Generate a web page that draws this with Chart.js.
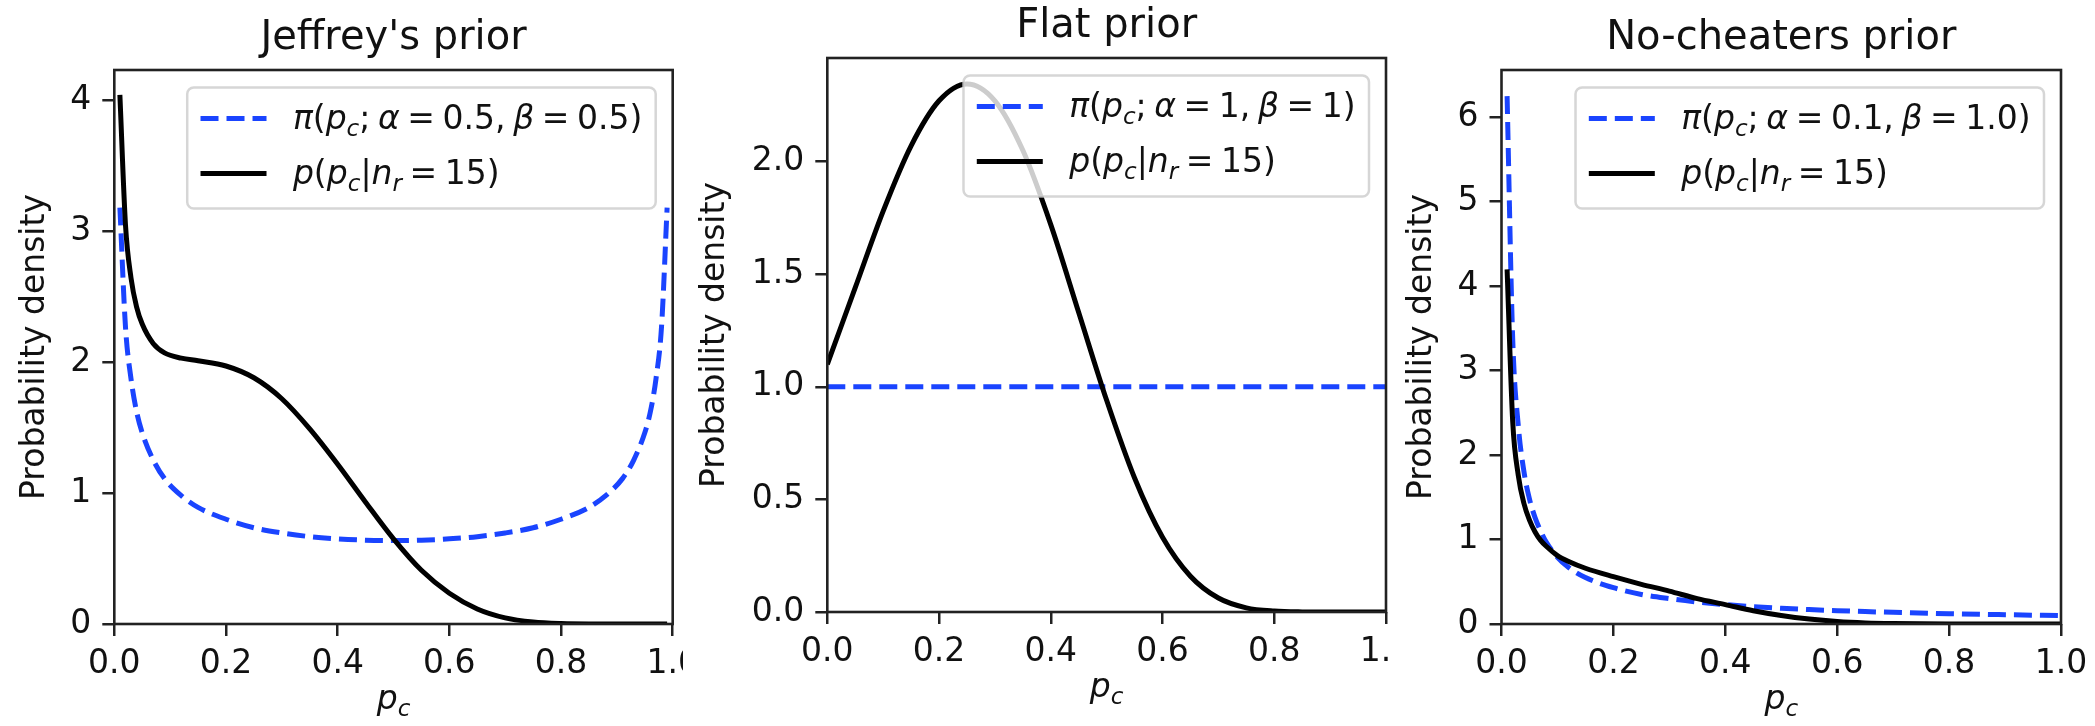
<!DOCTYPE html>
<html lang="en">
<head>
<meta charset="UTF-8">
<title>Priors and posteriors</title>
<script src="https://cdn.jsdelivr.net/npm/chart.js"></script>
<style>
  body { margin: 0; background: #fff; }
  #fig { position: relative; width: 2095px; height: 726px; overflow: hidden; }
  .panel { position: absolute; }
</style>
</head>
<body>
<div id="fig">
  <canvas id="jeffrey" class="panel" width="683" height="726" style="left:0px;top:0px"></canvas>
  <canvas id="flat" class="panel" width="704" height="726" style="left:686px;top:-12px"></canvas>
  <canvas id="nocheat" class="panel" width="703" height="726" style="left:1392px;top:0px"></canvas>
</div>
<script>
// ---- data ----
const xTicks = [0, 0.2, 0.4, 0.6, 0.8, 1.0];
const xTickLabels = ['0.0', '0.2', '0.4', '0.6', '0.8', '1.0'];

// Jeffrey's prior
const pcJeffrey = [0.01, 0.02, 0.03, 0.04, 0.05, 0.07, 0.09, 0.12, 0.15, 0.2, 0.25, 0.3, 0.35, 0.4, 0.45, 0.5,
                   0.55, 0.6, 0.65, 0.7, 0.75, 0.8, 0.85, 0.88, 0.91, 0.93, 0.95, 0.96, 0.97, 0.98, 0.99];
const priorJeffrey = [3.18, 2.27, 1.87, 1.62, 1.46, 1.25, 1.11, 0.98, 0.89, 0.80, 0.735, 0.695, 0.667, 0.650, 0.640, 0.637,
                      0.640, 0.650, 0.667, 0.695, 0.735, 0.80, 0.89, 0.98, 1.11, 1.25, 1.46, 1.62, 1.87, 2.27, 3.18];
const postJeffrey = [4.04, 3.05, 2.64, 2.42, 2.29, 2.14, 2.07, 2.03, 2.01, 1.97, 1.88, 1.72, 1.49, 1.22, 0.93, 0.65,
                     0.41, 0.235, 0.115, 0.047, 0.015, 0.003, 0, 0, 0, 0, 0, 0, 0, 0, 0];
const yTicksJeffrey = [0, 1, 2, 3, 4];
const yTickLabelsJeffrey = ['0', '1', '2', '3', '4'];
const legendJeffrey = ['π(p_c; α = 0.5, β = 0.5)', 'p(p_c|n_r = 15)'];

// Flat prior
const pcFlat = [0, 0.05, 0.1, 0.15, 0.2, 0.25, 0.3, 0.35, 0.4, 0.45, 0.5, 0.55, 0.6, 0.65, 0.7, 0.75, 0.8, 0.85, 0.9, 0.95, 1.0];
const priorFlat = [1, 1, 1, 1, 1, 1, 1, 1, 1, 1, 1, 1, 1, 1, 1, 1, 1, 1, 1, 1, 1];
const postFlat = [1.10, 1.44, 1.78, 2.07, 2.27, 2.345, 2.27, 2.05, 1.72, 1.33, 0.94, 0.595, 0.332, 0.159, 0.062, 0.0185,
                  0.004, 0.0005, 0, 0, 0];
const yTicksFlat = [0, 0.5, 1.0, 1.5, 2.0];
const yTickLabelsFlat = ['0.0', '0.5', '1.0', '1.5', '2.0'];
const legendFlat = ['π(p_c; α = 1, β = 1)', 'p(p_c|n_r = 15)'];

// No-cheaters prior
const pcNoCheat = [0.01, 0.02, 0.03, 0.04, 0.05, 0.06, 0.07, 0.08, 0.1, 0.12, 0.15, 0.2, 0.25, 0.3, 0.35, 0.4, 0.45, 0.5,
                   0.55, 0.6, 0.65, 0.7, 0.8, 0.9, 1.0];
const priorNoCheat = [6.25, 3.38, 2.35, 1.81, 1.48, 1.26, 1.10, 0.97, 0.79, 0.67, 0.55, 0.43, 0.35, 0.30, 0.26, 0.23, 0.205, 0.187,
                      0.171, 0.158, 0.147, 0.138, 0.122, 0.110, 0.100];
const postNoCheat = [4.2, 2.40, 1.76, 1.43, 1.23, 1.09, 0.99, 0.92, 0.81, 0.74, 0.66, 0.56, 0.47, 0.39, 0.30, 0.23, 0.157, 0.101,
                     0.059, 0.030, 0.013, 0.005, 0.0003, 0, 0];
const yTicksNoCheat = [0, 1, 2, 3, 4, 5, 6];
const yTickLabelsNoCheat = ['0', '1', '2', '3', '4', '5', '6'];
const legendNoCheat = ['π(p_c; α = 0.1, β = 1.0)', 'p(p_c|n_r = 15)'];

// ---- styling ----
const FONT = 'DejaVu Sans';
const INK = '#111';
const SPINE = '#222';
const BLUE = '#1a44ff';
const SIZE = 33;

// tiny mathtext: letters italic, "_x" subscript, spacing round "=" and after "," ";"
function mathTokens(str) {
    const out = [];
    for (let i = 0; i < str.length; i++) {
        let ch = str[i];
        if (ch === ' ') continue;
        let sub = false;
        if (ch === '_') { sub = true; ch = str[++i]; }
        if (ch === '=') {
            out.push({ gap: 0.23 }, { t: '=' }, { gap: 0.23 });
            continue;
        }
        out.push({ t: ch, it: /[a-zA-Zα-ω]/.test(ch), sub: sub });
        if (ch === ',' || ch === ';') out.push({ gap: 0.23 });
    }
    return out;
}

function tokFont(t, size) {
    return (t.it ? 'italic ' : '') + (t.sub ? size * 0.7 : size) + 'px "' + FONT + '"';
}

function measureMath(ctx, str, size) {
    let w = 0;
    mathTokens(str).forEach(t => {
        if (t.gap) { w += t.gap * size; return; }
        ctx.font = tokFont(t, size);
        w += ctx.measureText(t.t).width;
    });
    return w;
}

function drawMath(ctx, str, x, y, size, align) {
    let cx = align === 'center' ? x - measureMath(ctx, str, size) / 2 : x;
    ctx.textAlign = 'left';
    ctx.textBaseline = 'alphabetic';
    mathTokens(str).forEach(t => {
        if (t.gap) { cx += t.gap * size; return; }
        ctx.font = tokFont(t, size);
        ctx.fillText(t.t, cx, y + (t.sub ? 0.22 * size : 0));
        cx += ctx.measureText(t.t).width;
    });
}

// spines, matplotlib-like legend and the x label
const figureExtras = {
    id: 'figureExtras',
    afterDatasetsDraw(chart, args, opts) {
        const ctx = chart.ctx;
        const ca = chart.chartArea;
        ctx.save();
        ctx.strokeStyle = SPINE;
        ctx.lineWidth = 2.6;
        ctx.strokeRect(ca.left, ca.top, ca.right - ca.left, ca.bottom - ca.top);

        const pad = 13.3, handle = 66, textGap = 26.4;
        const textW = Math.max(...opts.labels.map(s => measureMath(ctx, s, SIZE)));
        const boxW = pad + handle + textGap + textW + pad;
        const boxH = 121;
        const left = ca.right - 17 - boxW;
        const top = ca.top + 17.5;
        ctx.beginPath();
        ctx.roundRect(left, top, boxW, boxH, 6.6);
        ctx.fillStyle = 'rgba(255,255,255,0.8)';
        ctx.fill();
        ctx.strokeStyle = 'rgba(204,204,204,0.8)';
        ctx.lineWidth = 2.5;
        ctx.stroke();

        chart.data.datasets.forEach((ds, i) => {
            const cy = top + 31 + i * 55;
            ctx.beginPath();
            ctx.setLineDash(ds.borderDash || []);
            ctx.lineCap = 'butt';
            ctx.strokeStyle = ds.borderColor;
            ctx.lineWidth = ds.borderWidth;
            ctx.moveTo(left + pad, cy);
            ctx.lineTo(left + pad + handle, cy);
            ctx.stroke();
            ctx.setLineDash([]);
            ctx.fillStyle = INK;
            drawMath(ctx, opts.labels[i], left + pad + handle + textGap, cy + 10, SIZE, 'left');
        });

        ctx.fillStyle = INK;
        drawMath(ctx, opts.xLabel, (ca.left + ca.right) / 2, ca.bottom + 85, SIZE, 'center');
        ctx.restore();
    }
};

function points(xs, ys) {
    return xs.map((x, i) => ({ x: x, y: ys[i] }));
}

function makePanel(id, p) {
    const ctx = document.getElementById(id).getContext('2d');
    return new Chart(ctx, {
        type: 'line',
        data: {
            datasets: [
                {
                    label: 'prior',
                    data: points(p.pc, p.prior),
                    borderColor: BLUE,
                    borderWidth: 5,
                    borderDash: [18, 8],
                    pointRadius: 0,
                    cubicInterpolationMode: 'monotone',
                    clip: 0,
                    order: 1
                },
                {
                    label: 'posterior',
                    data: points(p.pc, p.post),
                    borderColor: '#000',
                    borderWidth: 5,
                    pointRadius: 0,
                    cubicInterpolationMode: 'monotone',
                    clip: 0,
                    order: 0
                }
            ]
        },
        options: {
            responsive: false,
            animation: false,
            layout: { padding: { top: 15, left: 0, right: p.rightPad, bottom: 0 } },
            plugins: {
                legend: { display: false },
                tooltip: { enabled: false },
                title: {
                    display: true,
                    text: p.title,
                    fullSize: false,
                    color: INK,
                    font: { family: FONT, size: 40, weight: 'normal', lineHeight: 1.2 },
                    padding: { top: 0, bottom: 7 }
                },
                figureExtras: { labels: p.legend, xLabel: 'p_c' }
            },
            scales: {
                x: {
                    type: 'linear',
                    min: 0,
                    max: 1,
                    afterBuildTicks: s => { s.ticks = xTicks.map(v => ({ value: v })); },
                    afterFit: s => { s.height = 102; s.paddingLeft = 0; s.paddingRight = 0; },
                    border: { display: false },
                    grid: { display: true, drawOnChartArea: false, drawTicks: true, tickLength: 12, color: SPINE, lineWidth: 2.5 },
                    ticks: {
                        autoSkip: false,
                        maxRotation: 0,
                        padding: 9,
                        color: INK,
                        font: { family: FONT, size: SIZE },
                        callback: (v, i) => xTickLabels[i]
                    }
                },
                y: {
                    min: 0,
                    max: p.yMax,
                    afterBuildTicks: s => { s.ticks = p.yTicks.map(v => ({ value: v })); },
                    afterFit: s => { s.width = p.yAxisWidth; s.paddingTop = 0; s.paddingBottom = 0; },
                    border: { display: false },
                    grid: { display: true, drawOnChartArea: false, drawTicks: true, tickLength: 12, color: SPINE, lineWidth: 2.5 },
                    ticks: {
                        autoSkip: false,
                        padding: 11,
                        color: INK,
                        font: { family: FONT, size: SIZE },
                        callback: (v, i) => p.yTickLabels[i]
                    },
                    title: {
                        display: true,
                        text: 'Probability density',
                        color: INK,
                        font: { family: FONT, size: SIZE, lineHeight: 1.2 },
                        padding: { top: p.yTitlePad, bottom: 0 }
                    }
                }
            }
        },
        plugins: [figureExtras]
    });
}

makePanel('jeffrey', {
    title: "Jeffrey's prior", pc: pcJeffrey, prior: priorJeffrey, post: postJeffrey,
    yMax: 4.23, yTicks: yTicksJeffrey, yTickLabels: yTickLabelsJeffrey, legend: legendJeffrey,
    yAxisWidth: 114.3, yTitlePad: 15.6, rightPad: 10.3
});
makePanel('flat', {
    title: 'Flat prior', pc: pcFlat, prior: priorFlat, post: postFlat,
    yMax: 2.46, yTicks: yTicksFlat, yTickLabels: yTickLabelsFlat, legend: legendFlat,
    yAxisWidth: 141.3, yTitlePad: 9.4, rightPad: 4
});
makePanel('nocheat', {
    title: 'No-cheaters prior', pc: pcNoCheat, prior: priorNoCheat, post: postNoCheat,
    yMax: 6.56, yTicks: yTicksNoCheat, yTickLabels: yTickLabelsNoCheat, legend: legendNoCheat,
    yAxisWidth: 109.5, yTitlePad: 10.3, rightPad: 34
});
</script>
</body>
</html>
